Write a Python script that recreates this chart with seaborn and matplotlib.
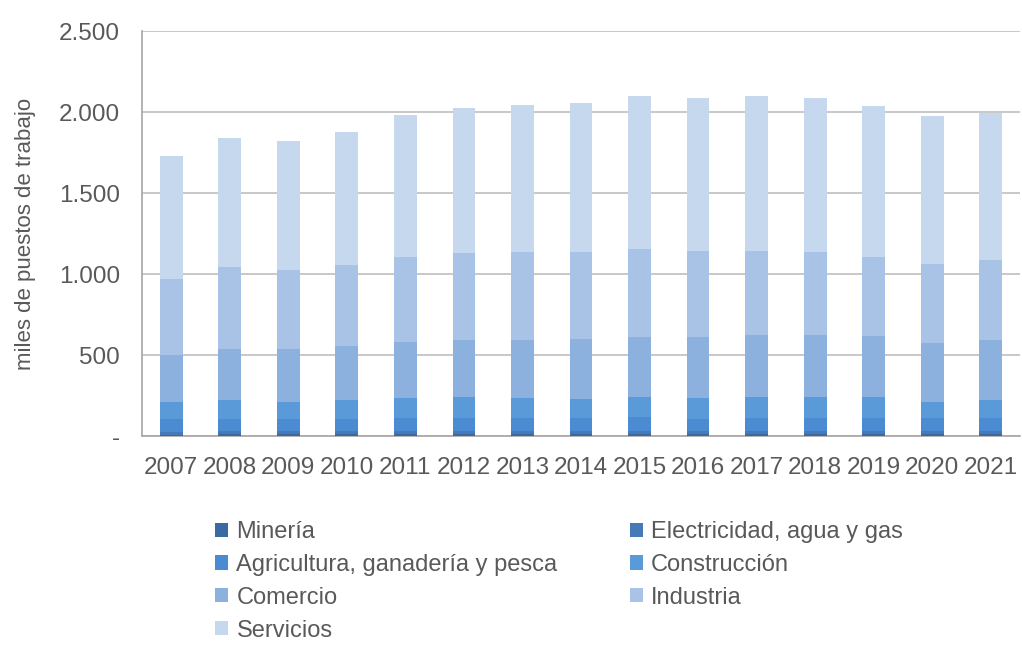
import numpy as np
import pandas as pd
import matplotlib
matplotlib.use('Agg')
import matplotlib.pyplot as plt
import seaborn as sns
from matplotlib.patches import Patch
from matplotlib.ticker import FuncFormatter

years = [str(y) for y in range(2007, 2022)]
mineria = [9, 10, 10, 10, 11, 12, 12, 12, 12, 11, 11, 11, 11, 10, 10]
electricidad = [18, 19, 19, 19, 20, 20, 21, 21, 21, 21, 21, 21, 21, 21, 21]
agricultura = [76, 78, 74, 74, 82, 81, 80, 80, 82, 71, 81, 81, 81, 82, 82]
construccion = [109, 115, 109, 119, 120, 126, 120, 115, 124, 130, 126, 126, 126, 99, 109]
comercio = [290, 317, 327, 334, 349, 352, 358, 373, 370, 376, 386, 386, 378, 362, 371]
industria = [467, 502, 484, 501, 521, 537, 545, 535, 545, 535, 519, 511, 486, 486, 493]
servicios = [759, 800, 800, 820, 878, 899, 909, 918, 945, 944, 955, 952, 934, 915, 910]

sectores = ['Minería', 'Electricidad, agua y gas', 'Agricultura, ganadería y pesca',
            'Construcción', 'Comercio', 'Industria', 'Servicios']
colores = ['#3a6aa3', '#4679b8', '#4b8bd2', '#5a9ad9', '#8cb1de', '#a9c3e6', '#c6d8ee']

df = pd.DataFrame({'anio': years, sectores[0]: mineria, sectores[1]: electricidad,
                   sectores[2]: agricultura, sectores[3]: construccion,
                   sectores[4]: comercio, sectores[5]: industria, sectores[6]: servicios})
acum = df[sectores].cumsum(axis=1)

sns.set_style('white')
plt.rcParams['font.family'] = ['Liberation Sans', 'DejaVu Sans']
gris = '#595959'

fig = plt.figure(figsize=(10.22, 6.47), dpi=100)
ax = fig.add_axes([0.139, 0.326, 0.859, 0.626])

# barras apiladas: se dibuja el acumulado de arriba hacia abajo
for sector, color in reversed(list(zip(sectores, colores))):
    sns.barplot(x=df['anio'], y=acum[sector], color=color, width=0.39,
                saturation=1, linewidth=0, edgecolor='none', ax=ax, zorder=3)

ax.set_ylim(0, 2500)
ax.set_yticks(np.arange(0, 2501, 500))
ax.yaxis.set_major_formatter(FuncFormatter(lambda v, p: '-' if v == 0 else f'{int(v):,}'.replace(',', '.')))
ax.grid(axis='y', color='#bfbfbf', linewidth=1.2, zorder=0)
ax.set_axisbelow(True)
for s in ['top', 'right']:
    ax.spines[s].set_visible(False)
for s in ['left', 'bottom']:
    ax.spines[s].set_color('#a6a6a6')
    ax.spines[s].set_linewidth(1.2)
ax.tick_params(axis='both', labelsize=17.5, colors=gris, length=0)
ax.tick_params(axis='y', pad=16)
ax.tick_params(axis='x', pad=15)
ax.set_xlabel('')
ax.set_ylabel('miles de puestos de trabajo', fontsize=16, color=gris, labelpad=16)

# leyenda en orden por filas
orden = [0, 2, 4, 6, 1, 3, 5]
handles = [Patch(facecolor=colores[i], edgecolor='none') for i in orden]
labels = [sectores[i] for i in orden]
fig.legend(handles, labels, ncol=2, loc='upper left', bbox_to_anchor=(0.199, 0.213),
           frameon=False, fontsize=17, labelcolor=gris, handlelength=0.55, handleheight=0.55,
           handletextpad=0.35, columnspacing=3.05, labelspacing=0.46, borderpad=0)

fig.savefig('out.png', dpi=100)
